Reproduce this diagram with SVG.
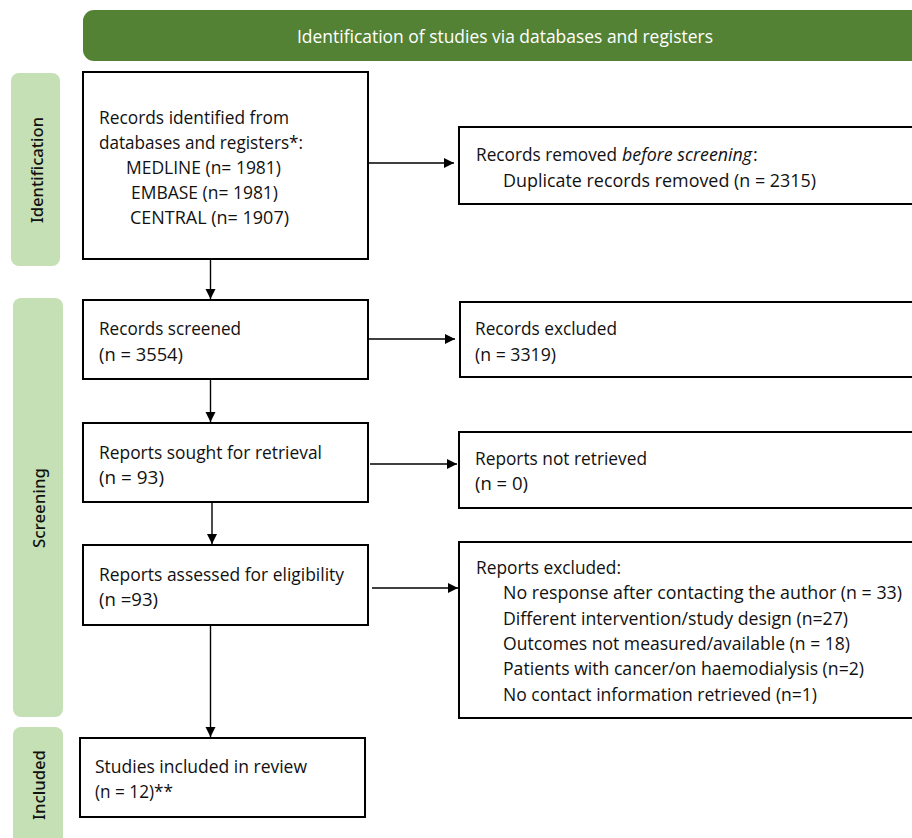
<svg xmlns="http://www.w3.org/2000/svg" width="912" height="838" viewBox="0 0 912 838">
<defs>
<style>
.box{fill:#fff;stroke:#000;stroke-width:2}
.lab{fill:#C5E0B4}
.t{font-family:"Open Sans","Noto Sans","Liberation Sans",sans-serif;font-size:18px;fill:#111}
.h{font-family:"Open Sans","Noto Sans","Liberation Sans",sans-serif;font-size:18px;fill:#fff}
.s{font-family:"Noto Sans","Open Sans","Liberation Sans",sans-serif;font-size:17px;font-weight:500;fill:#111}
.c{stroke:#000;stroke-width:1.4;fill:none;marker-end:url(#ah)}
</style>
<marker id="ah" markerUnits="userSpaceOnUse" markerWidth="11" markerHeight="11" refX="10" refY="5" orient="auto">
<path d="M0,0 L10,5 L0,10 z" fill="#000"/>
</marker>
</defs>
<rect width="912" height="838" fill="#fff"/>

<g id="header">
<rect x="83" y="10" width="845" height="51" rx="11" fill="#548235"/>
<text class="h" x="297" y="43" textLength="416" lengthAdjust="spacingAndGlyphs">Identification of studies via databases and registers</text>
</g>

<g id="label-identification">
<rect class="lab" x="11" y="73" width="49" height="193" rx="8"/>
<text class="s" transform="translate(43,170) rotate(-90)" x="-53" y="0" textLength="106" lengthAdjust="spacingAndGlyphs">Identification</text>
</g>
<g id="label-screening">
<rect class="lab" x="13" y="298" width="50" height="419" rx="8"/>
<text class="s" transform="translate(45,508) rotate(-90)" x="-40" y="0" textLength="80" lengthAdjust="spacingAndGlyphs">Screening</text>
</g>
<g id="label-included">
<rect class="lab" x="13" y="727" width="50" height="130" rx="8"/>
<text class="s" transform="translate(45,785) rotate(-90)" x="-35" y="0" textLength="70" lengthAdjust="spacingAndGlyphs">Included</text>
</g>

<g id="connectors">
<line class="c" x1="369" y1="163" x2="454" y2="163"/>
<line class="c" x1="210.5" y1="260" x2="210.5" y2="299"/>
<line class="c" x1="369" y1="339" x2="455" y2="339"/>
<line class="c" x1="210.5" y1="380" x2="210.5" y2="422"/>
<line class="c" x1="370" y1="464" x2="457" y2="464"/>
<line class="c" x1="212" y1="503" x2="212" y2="544"/>
<line class="c" x1="372" y1="588" x2="458" y2="588"/>
<line class="c" x1="210.5" y1="626" x2="210.5" y2="737"/>
</g>

<g id="identified">
<rect class="box" x="83" y="72" width="285" height="187"/>
<text class="t" x="99" y="124" textLength="190" lengthAdjust="spacingAndGlyphs">Records identified from</text>
<text class="t" x="99" y="149" textLength="204" lengthAdjust="spacingAndGlyphs">databases and registers*:</text>
<text class="t" x="126" y="174" textLength="155" lengthAdjust="spacingAndGlyphs">MEDLINE (n= 1981)</text>
<text class="t" x="131" y="199" textLength="147" lengthAdjust="spacingAndGlyphs">EMBASE (n= 1981)</text>
<text class="t" x="130" y="224" textLength="159" lengthAdjust="spacingAndGlyphs">CENTRAL (n= 1907)</text>
</g>

<g id="removed">
<rect class="box" x="459" y="127" width="460" height="77"/>
<text class="t" x="476" y="161" textLength="141" lengthAdjust="spacingAndGlyphs">Records removed</text>
<text class="t" x="622" y="161" font-style="italic" textLength="130" lengthAdjust="spacingAndGlyphs">before screening</text>
<text class="t" x="753" y="161">:</text>
<text class="t" x="503" y="187" textLength="313" lengthAdjust="spacingAndGlyphs">Duplicate records removed  (n = 2315)</text>
</g>

<g id="screened">
<rect class="box" x="83" y="300" width="285" height="79"/>
<text class="t" x="99" y="335" textLength="142" lengthAdjust="spacingAndGlyphs">Records screened</text>
<text class="t" x="99" y="361" textLength="84" lengthAdjust="spacingAndGlyphs">(n = 3554)</text>
</g>

<g id="excluded">
<rect class="box" x="460" y="302" width="460" height="75"/>
<text class="t" x="475" y="335" textLength="142" lengthAdjust="spacingAndGlyphs">Records excluded</text>
<text class="t" x="475" y="361" textLength="81" lengthAdjust="spacingAndGlyphs">(n = 3319)</text>
</g>

<g id="sought">
<rect class="box" x="83" y="423" width="285" height="79"/>
<text class="t" x="99" y="459" textLength="223" lengthAdjust="spacingAndGlyphs">Reports sought for retrieval</text>
<text class="t" x="99" y="484" textLength="65" lengthAdjust="spacingAndGlyphs">(n = 93)</text>
</g>

<g id="not-retrieved">
<rect class="box" x="459" y="432" width="460" height="76"/>
<text class="t" x="475" y="465" textLength="172" lengthAdjust="spacingAndGlyphs">Reports not retrieved</text>
<text class="t" x="475" y="490" textLength="53" lengthAdjust="spacingAndGlyphs">(n = 0)</text>
</g>

<g id="assessed">
<rect class="box" x="83" y="545" width="285" height="80"/>
<text class="t" x="99" y="581" textLength="245" lengthAdjust="spacingAndGlyphs">Reports assessed for eligibility</text>
<text class="t" x="99" y="606" textLength="59" lengthAdjust="spacingAndGlyphs">(n =93)</text>
</g>

<g id="reports-excluded">
<rect class="box" x="459" y="542" width="460" height="176"/>
<text class="t" x="476" y="574" textLength="145" lengthAdjust="spacingAndGlyphs">Reports excluded:</text>
<text class="t" x="503" y="599" textLength="399" lengthAdjust="spacingAndGlyphs">No response after contacting the author (n = 33)</text>
<text class="t" x="503" y="625" textLength="345" lengthAdjust="spacingAndGlyphs">Different intervention/study design (n=27)</text>
<text class="t" x="503" y="650" textLength="347" lengthAdjust="spacingAndGlyphs">Outcomes not measured/available (n = 18)</text>
<text class="t" x="503" y="675" textLength="361" lengthAdjust="spacingAndGlyphs">Patients with cancer/on haemodialysis (n=2)</text>
<text class="t" x="503" y="701" textLength="314" lengthAdjust="spacingAndGlyphs">No contact information retrieved (n=1)</text>
</g>

<g id="included">
<rect class="box" x="80" y="738" width="285" height="79"/>
<text class="t" x="95" y="773" textLength="212" lengthAdjust="spacingAndGlyphs">Studies included in review</text>
<text class="t" x="95" y="798" textLength="78" lengthAdjust="spacingAndGlyphs">(n = 12)**</text>
</g>
</svg>
